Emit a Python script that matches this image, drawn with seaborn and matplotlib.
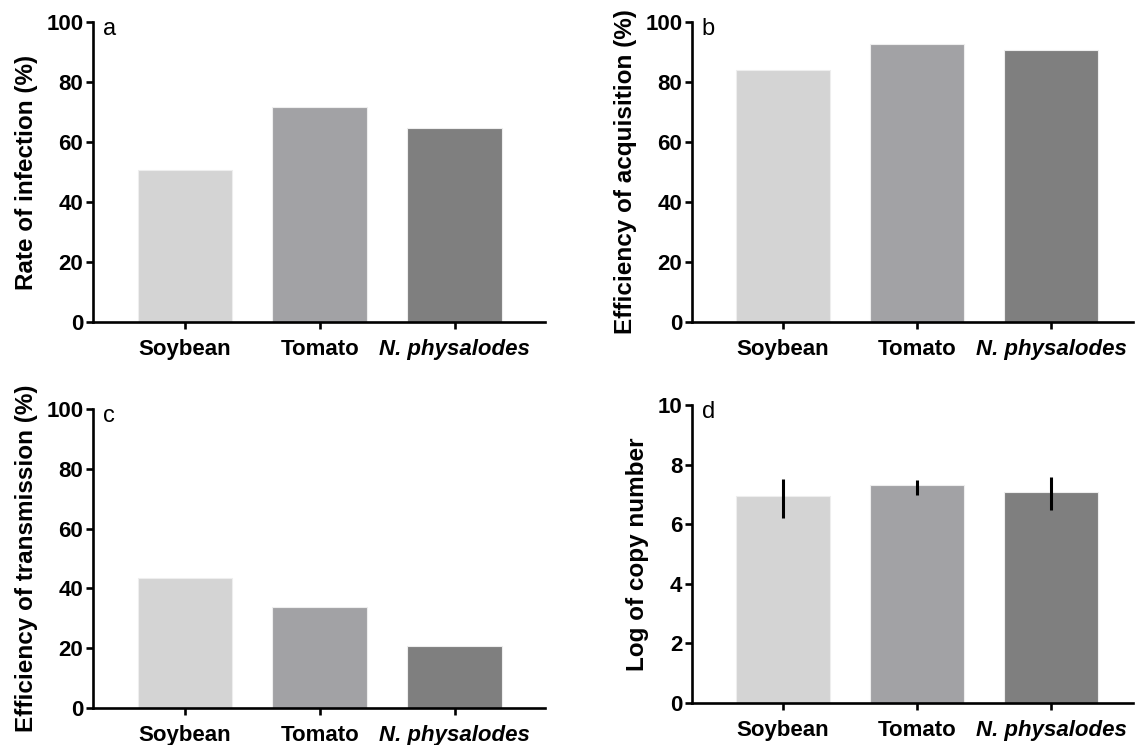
import numpy as np
import pandas as pd
import matplotlib
matplotlib.use('Agg')
import matplotlib.pyplot as plt
import seaborn as sns

sns.set_style('ticks')
plt.rcParams['font.family'] = ['Liberation Sans', 'DejaVu Sans']
plt.rcParams['text.color'] = 'black'
plt.rcParams['axes.labelcolor'] = 'black'
plt.rcParams['xtick.color'] = 'black'
plt.rcParams['ytick.color'] = 'black'

hosts = ['Soybean', 'Tomato', 'N. physalodes']
bar_colors = ['#d4d4d4', '#a2a1a6', '#7f7f7f']

infection = [50.6, 71.6, 64.6]
acquisition = [83.9, 92.5, 90.7]
transmission = [43.4, 33.9, 20.6]
copy_number = [6.93, 7.31, 7.09]
copy_err_low = [0.73, 0.33, 0.61]
copy_err_high = [0.59, 0.18, 0.48]

panels = [
    ('a', infection, 'Rate of infection (%)', 100, 20),
    ('b', acquisition, 'Efficiency of acquisition (%)', 100, 20),
    ('c', transmission, 'Efficiency of transmission (%)', 100, 20),
    ('d', copy_number, 'Log of copy number', 10, 2),
]
# axes boxes in figure fraction (left, bottom, width, height)
boxes = {
    'a': [0.0818, 0.5678, 0.3975, 0.4027],
    'b': [0.6086, 0.5678, 0.3879, 0.4027],
    'c': [0.0818, 0.0497, 0.3975, 0.4013],
    'd': [0.6086, 0.0564, 0.3879, 0.4000],
}
xlims = {'a': (-0.68, 2.67), 'b': (-0.68, 2.61), 'c': (-0.68, 2.67), 'd': (-0.68, 2.61)}

fig = plt.figure(figsize=(11.37, 7.45), dpi=100)
for letter, vals, ylab, ymax, ystep in panels:
    ax = fig.add_axes(boxes[letter])
    df = pd.DataFrame({'host': hosts, 'value': vals})
    sns.barplot(data=df, x='host', y='value', hue='host', palette=bar_colors,
                width=0.7, legend=False, ax=ax, edgecolor='#eeeeee', linewidth=0.8)
    if letter == 'd':
        ax.errorbar(np.arange(len(hosts)), copy_number,
                    yerr=[copy_err_low, copy_err_high], fmt='none',
                    ecolor='black', elinewidth=2.2, capsize=0)
    ax.set_ylim(0, ymax)
    ax.set_yticks(np.arange(0, ymax + 0.1, ystep))
    ax.set_xlim(*xlims[letter])
    ax.set_xlabel('')
    ax.set_ylabel(ylab, fontsize=17.5, fontweight='bold', labelpad=6)
    sns.despine(ax=ax)
    for s in ['left', 'bottom']:
        ax.spines[s].set_linewidth(1.9)
        ax.spines[s].set_color('black')
    ax.tick_params(axis='both', direction='out', length=5, width=1.9,
                   color='black', labelsize=16, labelcolor='black')
    ax.tick_params(axis='x', pad=7)
    ax.tick_params(axis='y', pad=2)
    for t in ax.get_yticklabels():
        t.set_fontweight('bold')
    ax.set_xticks(range(len(hosts)))
    ax.set_xticklabels(hosts)
    for t in ax.get_xticklabels():
        t.set_fontweight('bold')
    ax.get_xticklabels()[2].set_fontstyle('italic')
    ax.text(0.022, 1.012, letter, transform=ax.transAxes, fontsize=17,
            ha='left', va='top')

fig.savefig('out.png', dpi=100)
